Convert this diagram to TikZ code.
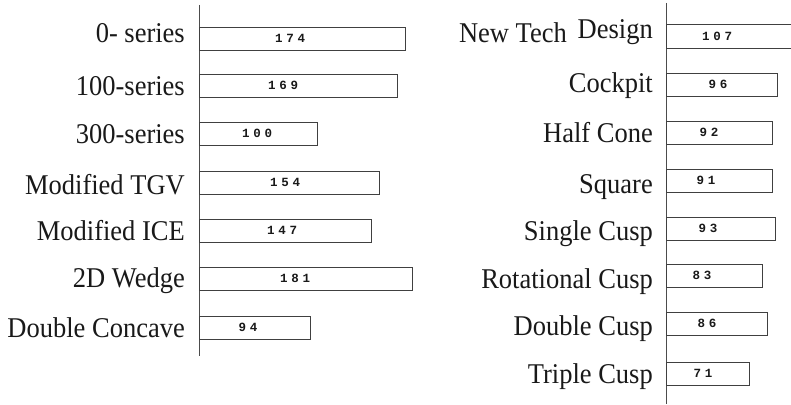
\documentclass[tikz,border=0pt]{standalone}
\usepackage{fontspec}
\setmainfont{Liberation Serif}
\newfontfamily\valfont[LetterSpace=30]{Liberation Mono}
\begin{document}
\begin{tikzpicture}[x=1pt,y=-1pt,
  axisline/.style={draw=black!70,line width=0.7pt},
  barbox/.style={draw=black!75,line width=0.8pt,fill=white},
  catlabel/.style={anchor=base east,inner sep=0pt,font=\fontsize{26.5}{28}\selectfont,yscale=1.08,text=black!90},
  vallabel/.style={inner sep=0pt,font=\valfont\bfseries\fontsize{12.5}{13}\selectfont,text=black!90}]
\useasboundingbox (0,0) rectangle (791,404);

% left chart
\draw[axisline] (199,5) -- (199,356);
\foreach \lab/\val/\top/\right/\vx/\base [count=\i] in {
  0- series/174/27/405/290/43,
  100-series/169/74/397/283/95,
  300-series/100/122/317/257/143,
  Modified TGV/154/171/379/285/194,
  Modified ICE/147/219/371/282/240,
  2D Wedge/181/267/412/295/287,
  Double Concave/94/316/310/248/337}{
  \draw[barbox] (199,\top) rectangle (\right,\top+23);
  \node[vallabel] (lv\i) at (\vx,\top+11.5) {\val};
  \node[catlabel] (ll\i) at (185,\base) {\lab};
}

% right chart
\draw[axisline] (666,3) -- (666,404);
\foreach \lab/\val/\top/\right/\vx/\base [count=\i] in {
  Cockpit/96/73/777/718/92,
  Half Cone/92/121/772/709/142,
  Square/91/169/772/706/193,
  Single Cusp/93/217/775/708/240,
  Rotational Cusp/83/264/762/702/288,
  Double Cusp/86/312/767/707/335,
  Triple Cusp/71/362/749/703/383}{
  \draw[barbox] (666,\top) rectangle (\right,\top+23);
  \node[vallabel] (rv\i) at (\vx,\top+11.5) {\val};
  \node[catlabel] (rl\i) at (653,\base) {\lab};
}
% first bar runs off the right edge
\draw[barbox] (666,24) rectangle (795,48);
\node[vallabel] (rv0) at (717,36) {107};
\node[catlabel] (rlb) at (653,39) {Design};
\node[catlabel] (rla) at (567,43) {New Tech};
\end{tikzpicture}
\end{document}
